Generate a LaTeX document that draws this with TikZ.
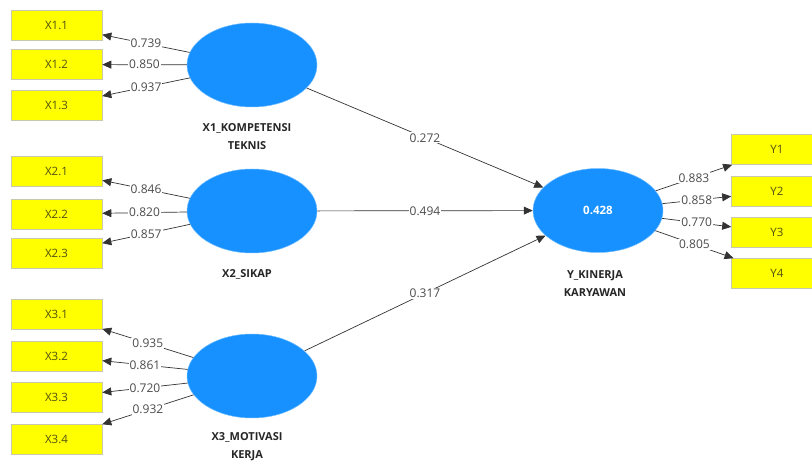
\documentclass[tikz,border=0pt]{standalone}
\usepackage{fontspec}
\setmainfont{Open Sans}
\usetikzlibrary{arrows.meta,shapes.geometric}
\definecolor{lvblue}{RGB}{22,145,255}
\definecolor{mvyellow}{RGB}{255,255,0}
\definecolor{mvborder}{RGB}{200,200,170}
\definecolor{mvtext}{RGB}{80,80,20}
\definecolor{wtext}{RGB}{75,75,75}
\tikzset{
  mv/.style={rectangle,draw=mvborder,fill=mvyellow,line width=0.6pt,minimum width=91pt,minimum height=30pt,inner sep=0pt,text=mvtext,font=\fontsize{11.5}{13}\selectfont},
  lv/.style={ellipse,fill=lvblue,draw=lvblue!60,line width=0.5pt,minimum width=130pt,minimum height=84pt,inner sep=0pt,text=white,font=\bfseries\fontsize{11.5}{13}\selectfont},
  lvname/.style={align=center,font=\bfseries\fontsize{11}{18}\selectfont,text=black!85},
  conn/.style={draw=black!80,line width=0.7pt,-{Triangle[length=9pt,width=8pt]}},
  wt/.style={fill=white,inner sep=1pt,text=wtext,font=\fontsize{12}{13}\selectfont,midway}
}
\begin{document}
\begin{tikzpicture}[x=1pt,y=-1pt]
\useasboundingbox (0,0) rectangle (812,462);
\clip (0,0) rectangle (812,462);
% indicators
\node[mv] (x11) at (56.5,25.5) {X1.1};
\node[mv] (x12) at (56.5,64.5) {X1.2};
\node[mv] (x13) at (56.5,105.5) {X1.3};
\node[mv] (x21) at (56.5,171) {X2.1};
\node[mv] (x22) at (56.5,214) {X2.2};
\node[mv] (x23) at (56.5,253) {X2.3};
\node[mv] (x31) at (56.5,314.5) {X3.1};
\node[mv] (x32) at (56.5,356) {X3.2};
\node[mv] (x33) at (56.5,397.5) {X3.3};
\node[mv] (x34) at (56.5,439) {X3.4};
\node[mv] (y1) at (777,149.5) {Y1};
\node[mv] (y2) at (777,191.5) {Y2};
\node[mv] (y3) at (777,232.5) {Y3};
\node[mv] (y4) at (777,273.5) {Y4};
% latent variables
\node[lv] (lx1) at (252,65) {};
\node[lv] (lx2) at (252,211) {};
\node[lv] (lx3) at (252,376) {};
\node[lv] (ly) at (598,210.5) {0.428};
\node[lvname] (nx1) at (247,137) {X1\_KOMPETENSI\\TEKNIS};
\node[lvname] (nx2) at (247,274) {X2\_SIKAP};
\node[lvname] (nx3) at (247,447) {X3\_MOTIVASI\\KERJA};
\node[lvname] (ny) at (595,284) {Y\_KINERJA\\KARYAWAN};
% loadings
\draw[conn] (lx1) -- node[wt]{0.739} (x11);
\draw[conn] (lx1) -- node[wt]{0.850} (x12);
\draw[conn] (lx1) -- node[wt]{0.937} (x13);
\draw[conn] (lx2) -- node[wt]{0.846} (x21);
\draw[conn] (lx2) -- node[wt]{0.820} (x22);
\draw[conn] (lx2) -- node[wt]{0.857} (x23);
\draw[conn] (lx3) -- node[wt]{0.935} (x31);
\draw[conn] (lx3) -- node[wt]{0.861} (x32);
\draw[conn] (lx3) -- node[wt]{0.720} (x33);
\draw[conn] (lx3) -- node[wt]{0.932} (x34);
\draw[conn] (ly) -- node[wt]{0.883} (y1);
\draw[conn] (ly) -- node[wt]{0.858} (y2);
\draw[conn] (ly) -- node[wt]{0.770} (y3);
\draw[conn] (ly) -- node[wt]{0.805} (y4);
% paths
\draw[conn] (lx1) -- node[wt]{0.272} (ly);
\draw[conn] (lx2) -- node[wt]{0.494} (ly);
\draw[conn] (lx3) -- node[wt]{0.317} (ly);
\end{tikzpicture}
\end{document}
